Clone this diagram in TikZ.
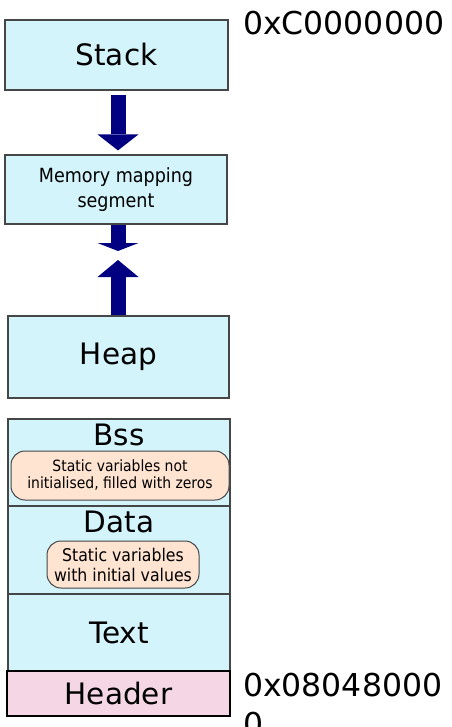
\documentclass[tikz,border=0pt]{standalone}
\usepackage{fontspec}
\setmainfont{DejaVu Sans}
\newfontfamily\condensed{DejaVu Sans Condensed}
\usetikzlibrary{arrows.meta}

\definecolor{segfill}{RGB}{212,244,252}
\definecolor{notefill}{RGB}{255,228,210}
\definecolor{headfill}{RGB}{244,214,228}
\definecolor{segline}{RGB}{70,70,70}
\definecolor{arrowblue}{RGB}{0,0,128}

\begin{document}
\begin{tikzpicture}[x=1pt, y=-1pt,
    segment/.style={draw=segline, fill=segfill, line width=1.2pt, inner sep=0pt,
      minimum width=222pt, font=\fontsize{29.5}{35}\selectfont},
    note/.style={draw=segline, fill=notefill, line width=1pt, rounded corners=14pt,
      inner sep=0pt, align=center},
    growth/.style={line width=15pt, draw=arrowblue,
      -{Triangle[width=41pt, length=#1, line width=0pt]}},
    growth/.default=16pt,
    address/.style={anchor=north west, inner sep=0pt, align=left,
      font=\fontsize{31.5}{39}\selectfont}
  ]

  \useasboundingbox (0,0) rectangle (451,727);

  \node[segment, minimum width=223pt, minimum height=70pt] (stack) at (116.5,55) {Stack};
  \node[segment, minimum height=69pt, align=center,
    font=\condensed\fontsize{19.5}{25}\selectfont] (mmap) at (116,189.5) {Memory mapping\\segment};
  \node[segment, minimum width=221pt, minimum height=82pt] (heap) at (118.5,357) {Heap};
  \node[segment, minimum height=87pt] (bss) at (119,462.5) {};
  \node[segment, minimum height=88pt] (data) at (119,550) {};
  \node[segment, minimum height=77pt] (textseg) at (119,632.5) {Text};
  \node[segment, fill=headfill, draw=black, line width=2pt, minimum width=223pt,
    minimum height=45pt] (header) at (118.5,693.5) {Header};

  \node[anchor=base, inner sep=0pt, font=\fontsize{29.5}{35}\selectfont] (bsslabel) at (119,445) {Bss};
  \node[anchor=base, inner sep=0pt, font=\fontsize{29.5}{35}\selectfont] (datalabel) at (119,532) {Data};

  \node[note, minimum width=218pt, minimum height=49pt,
    font=\condensed\fontsize{15.5}{17}\selectfont] (bssnote) at (120,475.5)
    {Static variables not\\initialised, filled with zeros};
  \node[note, minimum width=152pt, minimum height=47pt,
    font=\condensed\fontsize{17.5}{20}\selectfont] (datanote) at (123,564.5)
    {Static variables\\with initial values};

  \coordinate (axis) at (118,0);
  \coordinate (mmaptip) at (118,251);
  \coordinate (heaptip) at (118,260);

  \draw[growth, shorten <=4pt, shorten >=4pt] (stack.south -| axis) -- (mmap.north -| axis);
  \draw[growth=8pt] (mmap.south -| axis) -- (mmaptip);
  \draw[growth=17pt] (heap.north -| axis) -- (heaptip);

  \node[address] (topaddr) at (243,10.5) {0xC0000000};
  \node[address] (baseaddr) at (243,672.5) {0x08048000\\0};
\end{tikzpicture}
\end{document}
